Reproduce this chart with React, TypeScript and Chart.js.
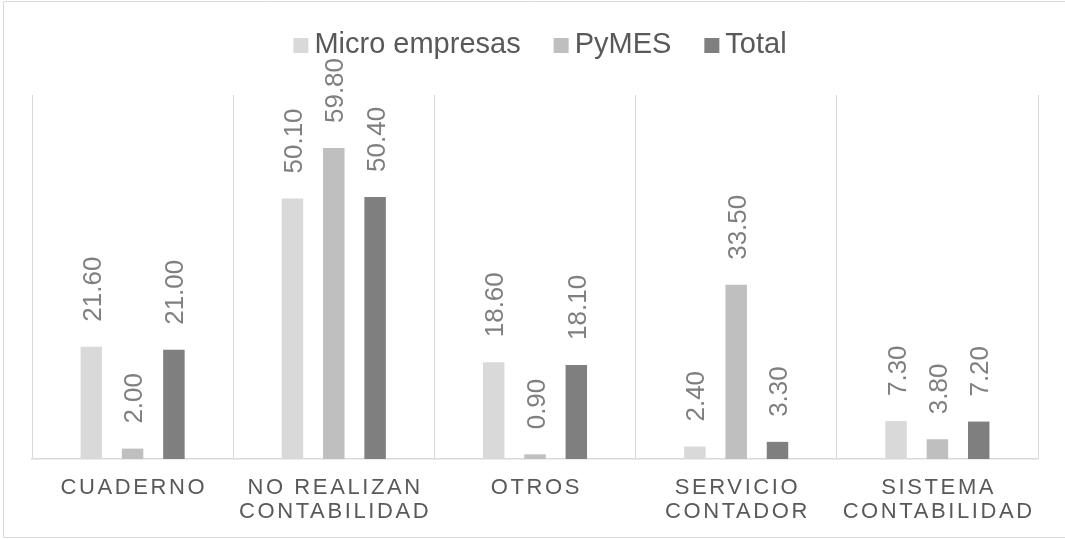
import React, { useEffect, useRef } from "react";
import { Chart, registerables } from "chart.js";

Chart.register(...registerables);

const categories: string[][] = [
  ["CUADERNO"],
  ["NO REALIZAN", "CONTABILIDAD"],
  ["OTROS"],
  ["SERVICIO", "CONTADOR"],
  ["SISTEMA", "CONTABILIDAD"],
];
const seriesNames = ["Micro empresas", "PyMES", "Total"];
const microValues = [21.6, 50.1, 18.6, 2.4, 7.3];
const pymesValues = [2.0, 59.8, 0.9, 33.5, 3.8];
const totalValues = [21.0, 50.4, 18.1, 3.3, 7.2];
const seriesColors = ["#d9d9d9", "#bfbfbf", "#7f7f7f"];

const FONT = "'Liberation Sans', Arial, sans-serif";

const framePlugin = {
  id: "frame",
  beforeDraw(chart: any) {
    const ctx = chart.ctx;
    ctx.save();
    ctx.strokeStyle = "#d9d9d9";
    ctx.lineWidth = 1;
    ctx.beginPath();
    ctx.moveTo(1070, 1.5);
    ctx.lineTo(3.5, 1.5);
    ctx.lineTo(3.5, 537.5);
    ctx.lineTo(1070, 537.5);
    ctx.stroke();
    ctx.restore();
  },
};

const legendPlugin = {
  id: "customLegend",
  afterDraw(chart: any) {
    const ctx = chart.ctx;
    ctx.save();
    ctx.font = `29px ${FONT}`;
    const box = 15;
    const gap = 6;
    const spacing = 33;
    const items = chart.data.datasets.map((d: any) => ({
      label: d.label,
      color: d.backgroundColor,
      w: ctx.measureText(d.label).width,
    }));
    let total = 0;
    items.forEach((it: any, i: number) => {
      total += box + gap + it.w + (i < items.length - 1 ? spacing : 0);
    });
    let x = 540 - total / 2;
    const baseline = 52.7;
    items.forEach((it: any) => {
      ctx.fillStyle = it.color;
      ctx.fillRect(x, 38, box, box);
      x += box + gap;
      ctx.fillStyle = "#595959";
      ctx.textAlign = "left";
      ctx.textBaseline = "alphabetic";
      ctx.fillText(it.label, x, baseline);
      x += it.w + spacing;
    });
    ctx.restore();
  },
};

const valueLabelPlugin = {
  id: "valueLabels",
  afterDatasetsDraw(chart: any) {
    const ctx = chart.ctx;
    ctx.save();
    ctx.font = `26px ${FONT}`;
    ctx.fillStyle = "#7f7f7f";
    ctx.textAlign = "left";
    ctx.textBaseline = "alphabetic";
    chart.data.datasets.forEach((ds: any, di: number) => {
      const meta = chart.getDatasetMeta(di);
      meta.data.forEach((bar: any, i: number) => {
        const v = ds.data[i] as number;
        ctx.save();
        ctx.translate(bar.x + 9.5, bar.y - 25);
        ctx.rotate(-Math.PI / 2);
        ctx.fillText(v.toFixed(2), 0, 0);
        ctx.restore();
      });
    });
    ctx.restore();
  },
};

const xLabelPlugin = {
  id: "xLabels",
  afterDraw(chart: any) {
    const ctx = chart.ctx;
    const xs = chart.scales.x;
    const bottom = chart.chartArea.bottom;
    ctx.save();
    ctx.font = `22px ${FONT}`;
    (ctx as any).letterSpacing = "2.6px";
    ctx.fillStyle = "#595959";
    ctx.textAlign = "center";
    ctx.textBaseline = "alphabetic";
    (chart.data.labels as string[][]).forEach((lines, i) => {
      const x = xs.getPixelForValue(i) + 1.3;
      lines.forEach((line, k) => {
        ctx.fillText(line, x, bottom + 35 + k * 24.3);
      });
    });
    ctx.restore();
  },
};

export default function App() {
  const ref = useRef<HTMLCanvasElement | null>(null);
  useEffect(() => {
    if (!ref.current) return;
    const chart = new Chart(ref.current, {
      type: "bar",
      data: {
        labels: categories,
        datasets: [
          { label: seriesNames[0], data: microValues, backgroundColor: seriesColors[0] },
          { label: seriesNames[1], data: pymesValues, backgroundColor: seriesColors[1] },
          { label: seriesNames[2], data: totalValues, backgroundColor: seriesColors[2] },
        ],
      },
      options: {
        responsive: false,
        animation: false,
        layout: { padding: { left: 32, right: 27, top: 95, bottom: 80 } },
        datasets: {
          bar: { categoryPercentage: 0.616, barPercentage: 0.52 },
        },
        plugins: {
          legend: { display: false },
          title: { display: false },
          tooltip: { enabled: false },
        },
        scales: {
          x: {
            display: true,
            grid: {
              display: true,
              offset: true,
              color: "#d9d9d9",
              lineWidth: 1,
              drawTicks: false,
            },
            border: { display: true, color: "#d9d9d9", width: 1.5 },
            ticks: { display: false },
          },
          y: {
            display: false,
            min: 0,
            max: 70,
          },
        },
      },
      plugins: [framePlugin, valueLabelPlugin, xLabelPlugin, legendPlugin],
    });
    return () => chart.destroy();
  }, []);
  return (
    <div style={{ position: "absolute", left: 0, top: 0, width: 1065, height: 539, background: "#fff" }}>
      <canvas ref={ref} width={1065} height={539} style={{ display: "block" }} />
    </div>
  );
}
